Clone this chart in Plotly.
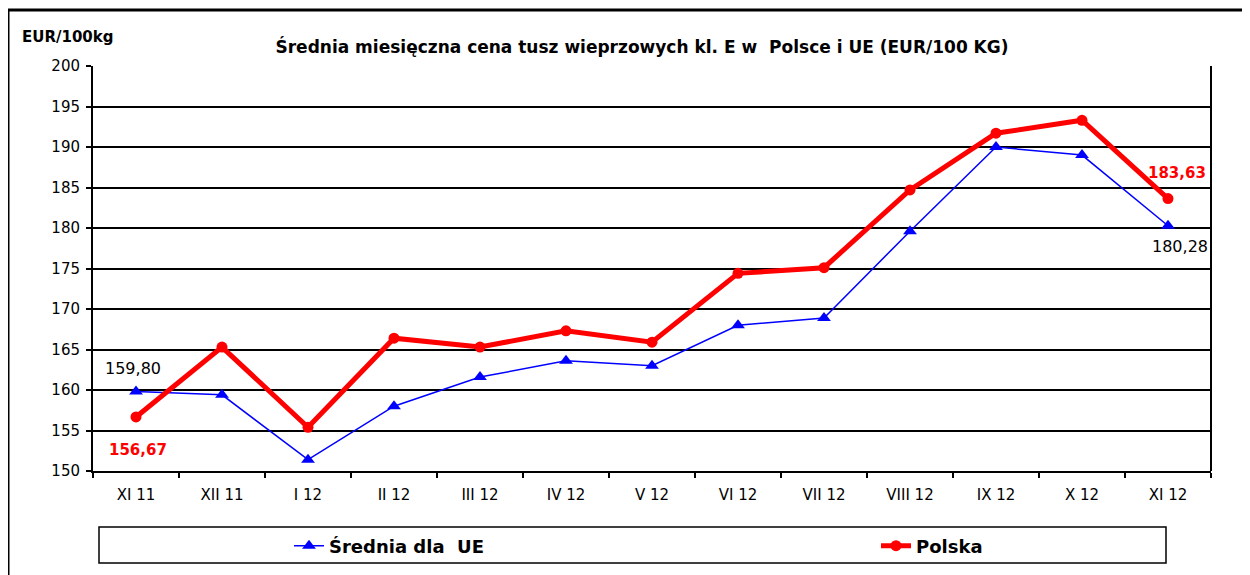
import plotly.graph_objects as go

months = ["XI 11", "XII 11", "I 12", "II 12", "III 12", "IV 12", "V 12",
          "VI 12", "VII 12", "VIII 12", "IX 12", "X 12", "XI 12"]
eu = [159.80, 159.4, 151.4, 158.0, 161.6, 163.6, 163.0, 168.0, 168.9, 179.6, 190.0, 189.0, 180.28]
polska = [156.67, 165.3, 155.4, 166.4, 165.3, 167.3, 165.9, 174.4, 175.1, 184.7, 191.7, 193.3, 183.63]
y_ticks = list(range(150, 201, 5))

# the page body has an 8px margin; work in figure pixels (window - 8)
OFF = 8
W, H = 1242, 567
L, R, T, B = 93 - OFF, 1211 - OFF, 66 - OFF, 471 - OFF


def px(xw):
    return (xw - OFF - L) / (R - L)


def py(yw):
    return (B - (yw - OFF)) / (B - T)


FONT = "DejaVu Sans, Liberation Sans, Arial, sans-serif"

fig = go.Figure()
fig.add_trace(go.Scatter(
    x=months, y=eu, mode="lines+markers", name="Średnia dla\u00a0\u00a0UE",
    line=dict(color="#0000FF", width=1.5),
    marker=dict(symbol="triangle-up", size=12, color="#0000FF"),
    legend="legend",
))
fig.add_trace(go.Scatter(
    x=months, y=polska, mode="lines+markers", name="Polska",
    line=dict(color="#FF0000", width=5),
    marker=dict(symbol="circle", size=11, color="#FF0000"),
    legend="legend2",
))

annotations = [
    dict(x=months[0], y=eu[0], text="159,80", showarrow=False, yshift=23, xshift=-3,
         font=dict(family=FONT, size=16, color="black")),
    dict(x=months[0], y=polska[0], text="<b>156,67</b>", showarrow=False, yshift=-33, xshift=2,
         font=dict(family=FONT, size=15, color="#FF0000")),
    dict(x=months[-1], y=polska[-1], text="<b>183,63</b>", showarrow=False, yshift=26, xshift=9,
         font=dict(family=FONT, size=15, color="#FF0000")),
    dict(x=months[-1], y=eu[-1], text="180,28", showarrow=False, yshift=-21, xshift=12,
         font=dict(family=FONT, size=16, color="black")),
    dict(xref="paper", yref="paper", x=px(20), y=py(37), xanchor="left", yanchor="middle",
         text="<b>EUR/100kg</b>", showarrow=False, font=dict(family=FONT, size=15, color="black")),
]

shapes = [
    dict(type="rect", xref="paper", yref="paper", x0=px(8), y0=py(640), x1=px(1320), y1=py(10),
         line=dict(color="black", width=3), layer="below"),
    dict(type="rect", xref="paper", yref="paper", x0=px(99), y0=py(563), x1=px(1166), y1=py(527),
         line=dict(color="black", width=1.5), layer="below"),
    dict(type="line", xref="paper", yref="paper", x0=1, x1=1, y0=0, y1=1,
         line=dict(color="black", width=2)),
]

legend_common = dict(orientation="h", yanchor="middle", xanchor="left",
                     bgcolor="rgba(0,0,0,0)", borderwidth=0,
                     font=dict(family=FONT, size=18, color="black", weight="bold"))

fig.update_layout(
    width=W, height=H,
    margin=dict(l=L, r=W - R, t=T, b=H - B, autoexpand=False),
    paper_bgcolor="white", plot_bgcolor="white",
    title=dict(text="<b>Średnia miesięczna cena tusz wieprzowych kl. E w\u00a0\u00a0Polsce i UE (EUR/100 KG)</b>",
               x=px(642), xref="paper", xanchor="center", y=1 - (47 - OFF) / H, yanchor="middle",
               font=dict(family=FONT, size=17, color="black")),
    font=dict(family=FONT, size=15, color="black"),
    showlegend=True,
    legend=dict(x=px(289), y=py(546), **legend_common),
    legend2=dict(x=px(876), y=py(546), **legend_common),
    annotations=annotations,
    shapes=shapes,
)
fig.update_xaxes(type="category", tickson="boundaries", ticks="outside", ticklen=5,
                 tickcolor="black", tickwidth=1.5, showline=True, linecolor="black", linewidth=2,
                 showgrid=False, tickfont=dict(family=FONT, size=15, color="black"),
                 range=[-0.5, len(months) - 0.5], ticklabelstandoff=9)
fig.update_yaxes(range=[150, 200], tickvals=y_ticks, ticks="outside", ticklen=5,
                 tickcolor="black", tickwidth=1.5, showline=True, linecolor="black", linewidth=2,
                 showgrid=True, gridcolor="black", gridwidth=2, zeroline=False,
                 tickfont=dict(family=FONT, size=15, color="black"), ticklabelstandoff=3)

fig.write_html("out.html")
